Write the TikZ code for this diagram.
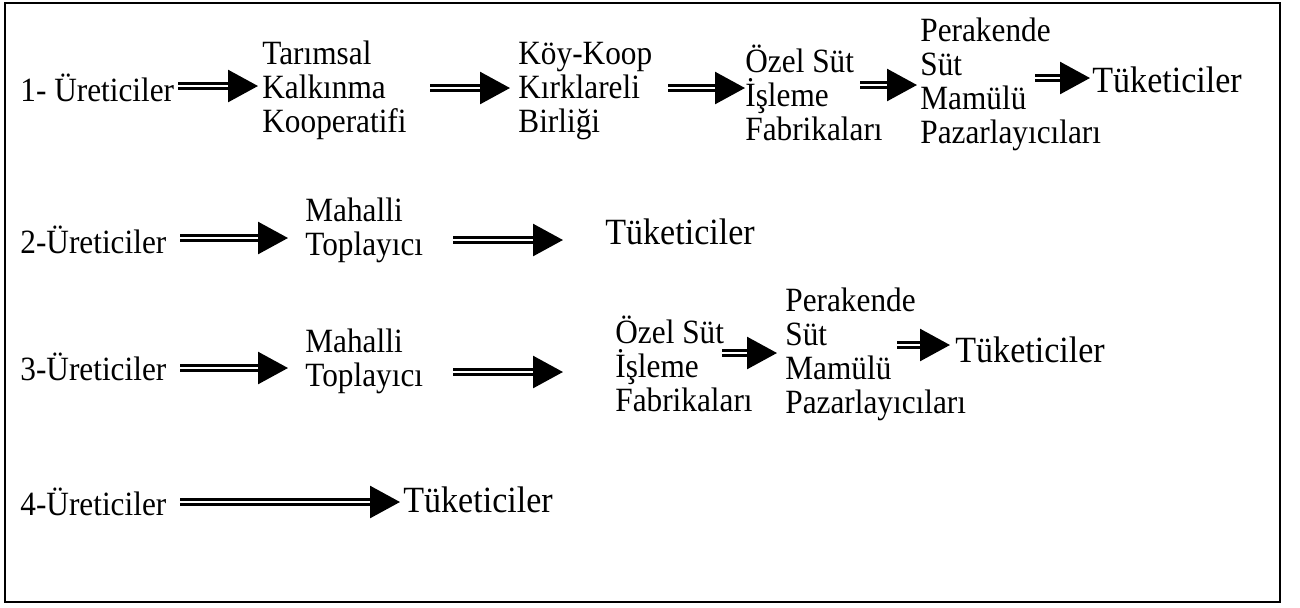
\documentclass[tikz,border=0pt]{standalone}
\usepackage{fontspec}
\setmainfont[FakeStretch=0.92]{Liberation Serif}
\usetikzlibrary{arrows.meta}

\begin{document}
\begin{tikzpicture}[x=0.5pt, y=-0.5pt,
	every node/.style={inner sep=0pt, anchor=west, align=left, font=\fontsize{17}{17}\selectfont},
	son/.style={font=\fontsize{18.5}{19}\selectfont},
	kanal/.style={double, line width=1.3pt, double distance=1.2pt, -{Triangle[length=15pt, width=16pt]}, shorten >=1.5pt}]
	\useasboundingbox (0,0) rectangle (1300,607);
	\draw[line width=1pt]	(5,3) rectangle (1280,602);

	% 1. kanal
	\node (ure1) at (20,88) {1- Üreticiler};
	\node (tar) at (262,90) {Tarımsal\\Kalkınma\\Kooperatifi};
	\node (koy) at (518,91) {Köy-Koop\\Kırklareli\\Birliği};
	\node (ozel1) at (745,93) {Özel Süt\\İşleme\\Fabrikaları};
	\node (per1) at (920,84) {Perakende\\Süt\\Mamülü\\Pazarlayıcıları};
	\node[son] (tuk1) at (1092,80) {Tüketiciler};
	\coordinate (a11) at (178,86);
	\coordinate (a12) at (430,88);
	\coordinate (a13) at (668,88);
	\coordinate (a14) at (860,85);
	\coordinate (a15) at (1035,78);
	\draw[kanal, shorten >=2pt]	(a11) -- (tar.west |- a11);
	\draw[kanal, shorten >=4pt]	(a12) -- (koy.west |- a12);
	\draw[kanal, shorten >=0pt]	(a13) -- (ozel1.west |- a13);
	\draw[kanal]	(a14) -- (per1.west |- a14);
	\draw[kanal, shorten >=1pt]	(a15) -- (tuk1.west |- a15);

	% 2. kanal
	\node (ure2) at (20,240) {2-Üreticiler};
	\node (mah2) at (305,230) {Mahalli\\Toplayıcı};
	\node[son] (tuk2) at (605,232) {Tüketiciler};
	\coordinate (a21) at (180,238);
	\coordinate (a22) at (453,240);
	\draw[kanal, shorten >=8.5pt]	(a21) -- (mah2.west |- a21);
	\draw[kanal, shorten >=21pt]	(a22) -- (tuk2.west |- a22);

	% 3. kanal
	\node (ure3) at (20,367) {3-Üreticiler};
	\node (mah3) at (305,361) {Mahalli\\Toplayıcı};
	\node (ozel3) at (615,364) {Özel Süt\\İşleme\\Fabrikaları};
	\node (per3) at (785,354) {Perakende\\Süt\\Mamülü\\Pazarlayıcıları};
	\node[son] (tuk3) at (955,350) {Tüketiciler};
	\coordinate (a31) at (180,368);
	\coordinate (a32) at (453,372);
	\coordinate (a33) at (722,353);
	\coordinate (a34) at (897,345);
	\draw[kanal, shorten >=8.5pt]	(a31) -- (mah3.west |- a31);
	\draw[kanal, shorten >=26pt]	(a32) -- (ozel3.west |- a32);
	\draw[kanal, shorten >=4pt]	(a33) -- (per3.west |- a33);
	\draw[kanal, shorten >=2.5pt]	(a34) -- (tuk3.west |- a34);

	% 4. kanal
	\node (ure4) at (20,502) {4-Üreticiler};
	\node[son] (tuk4) at (403,500) {Tüketiciler};
	\coordinate (a41) at (180,502);
	\draw[kanal]	(a41) -- (tuk4.west |- a41);
\end{tikzpicture}
\end{document}
